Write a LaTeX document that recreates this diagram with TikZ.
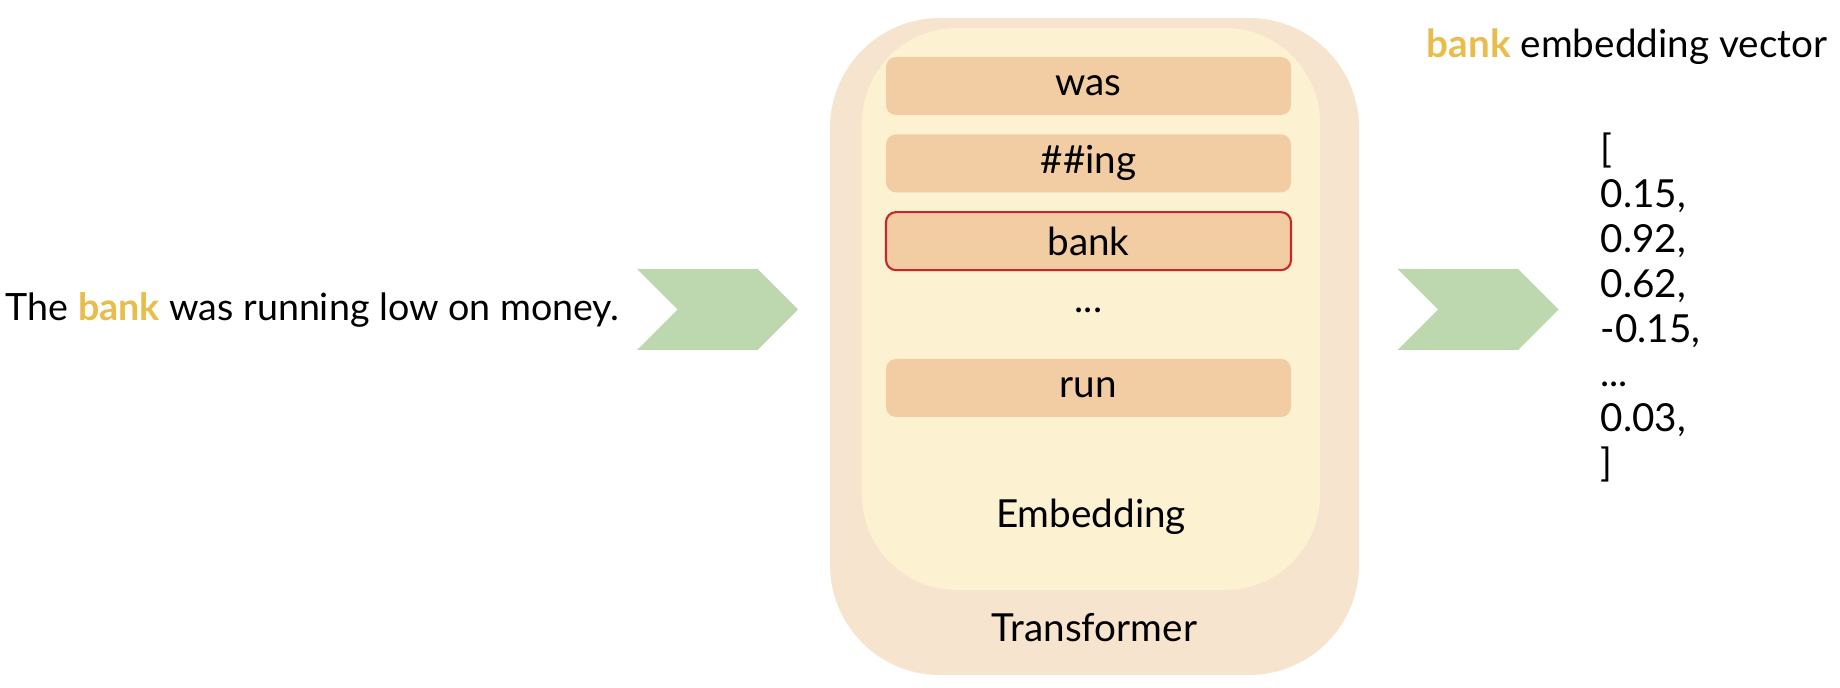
\documentclass[tikz,border=0pt]{standalone}
\usepackage{fontspec}
\setmainfont{Lato}
\usetikzlibrary{shapes.symbols,positioning}

\definecolor{outerfill}{HTML}{F6E4CF}
\definecolor{innerfill}{HTML}{FCF1D1}
\definecolor{tokfill}{HTML}{F2CDA3}
\definecolor{tokred}{HTML}{C62828}
\definecolor{chevgreen}{HTML}{BDD7AF}
\definecolor{bankyellow}{HTML}{E9BD4C}

\tikzset{
  txt/.style={font=\fontsize{11}{12.8}\selectfont, inner sep=0},
  token/.style={txt, fill=tokfill, rounded corners=0.1cm, minimum width=4.05cm, minimum height=0.58cm},
  chev/.style={shape=signal, signal from=west, signal to=east, fill=chevgreen, minimum width=1.61cm, minimum height=0.81cm, inner sep=0}
}

\begin{document}
\begin{tikzpicture}
\useasboundingbox (0,0) rectangle (18.4,6.88);

\fill[outerfill, rounded corners=1.1cm] (8.30,0.13) rectangle (13.59,6.70);
\fill[innerfill, rounded corners=0.95cm] (8.62,0.98) rectangle (13.20,6.60);

\node (sent) [txt, font=\fontsize{10.7}{12.8}\selectfont, anchor=west] at (0.05,3.785) {The \textcolor{bankyellow}{\textbf{bank}} was running low on money.};
\node (arr1) [chev] at (7.175,3.785) {};

\node (was) [token] at (10.885,6.02) {was};
\node (ing) [token, below=0.18cm of was] {\#\#ing};
\node (bank) [token, draw=tokred, line width=0.6pt, below=0.18cm of ing] {bank};
\node (dots) [txt] at (10.885,3.78) {...};
\node (run) [token] at (10.885,3.00) {run};
\node (emb) [txt] at (10.91,1.71) {Embedding};
\node (trf) [txt] at (10.945,0.60) {Transformer};

\node (arr2) [chev] at (14.78,3.785) {};

\node (title) [txt] at (16.27,6.41) {\textcolor{bankyellow}{\textbf{bank}} embedding vector};
\node (vec) [txt, anchor=west, align=left] at (16.0,3.805) {[\\0.15,\\0.92,\\0.62,\\-0.15,\\...\\0.03,\\]};
\end{tikzpicture}
\end{document}
